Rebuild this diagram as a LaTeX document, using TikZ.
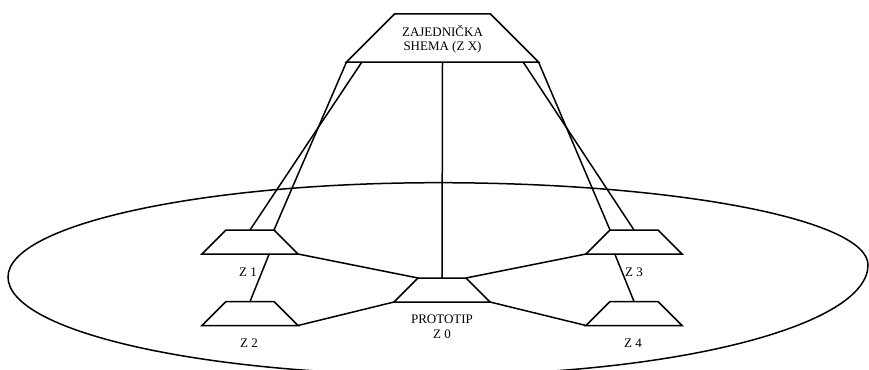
\documentclass[tikz,border=0pt]{standalone}
\usepackage{fontspec}
\setmainfont{Liberation Serif}
\usetikzlibrary{shapes.geometric,calc}
\begin{document}
\begin{tikzpicture}[x=1pt,y=-1pt,
  trap/.style={draw, trapezium, trapezium left angle=45, trapezium right angle=45,
    inner xsep=24pt, inner ysep=12pt, outer sep=0pt, line width=1.5pt},
  bigtrap/.style={trap, inner xsep=48pt, inner ysep=24pt},
  lbl/.style={inner sep=0pt, align=center, font=\fontsize{13}{14.5}\selectfont},
  conn/.style={line width=1.5pt}]
\useasboundingbox (0,0) rectangle (869,369);
% outer boundary
\begin{scope}
\clip (0,0) rectangle (869,369);
\draw[line width=1.5pt] (8,277)
  arc[start angle=180, end angle=90, x radius=430pt, y radius=94.3pt]
  arc[start angle=90, end angle=0, x radius=430pt, y radius=82.3pt]
  arc[start angle=0, end angle=-90, x radius=430pt, y radius=110pt]
  arc[start angle=-90, end angle=-180, x radius=430pt, y radius=98pt] -- cycle;
\end{scope}
% schemas
\node[bigtrap] (ZX) at (442.5,38) {};
\node[lbl] (ZXt) at (442.5,39.5) {ZAJEDNIČKA\\SHEMA (Z X)};
\node[trap] (Z1) at (250,242) {};
\node[trap] (Z2) at (250,313.5) {};
\node[trap] (Z0) at (442,290) {};
\node[trap] (Z3) at (634,242) {};
\node[trap] (Z4) at (634,313.5) {};
% labels
\node[lbl] (L1) at (248,272) {Z 1};
\node[lbl] (L2) at (249,343) {Z 2};
\node[lbl] (L3) at (634,272) {Z 3};
\node[lbl] (L4) at (633,343) {Z 4};
\node[lbl] (L0) at (442,327) {PROTOTIP\\Z 0};
% connectors from common schema
\coordinate (ZXa) at ($(ZX.bottom left corner)!0.08!(ZX.bottom right corner)$);
\coordinate (ZXb) at ($(ZX.bottom left corner)!0.92!(ZX.bottom right corner)$);
\draw[conn] (ZX.bottom left corner) -- (Z1.top right corner);
\draw[conn] (ZXa) -- (Z1.top side);
\draw[conn] (ZX.bottom right corner) -- (Z3.top left corner);
\draw[conn] (ZXb) -- (Z3.top side);
\draw[conn] (ZX.bottom side) -- (Z0.top side);
% connectors to prototype
\draw[conn] (Z1.bottom right corner) -- (Z0.top left corner);
\draw[conn] (Z2.bottom right corner) -- (Z0.bottom left corner);
\draw[conn] (Z3.bottom left corner) -- (Z0.top right corner);
\draw[conn] (Z4.bottom left corner) -- (Z0.bottom right corner);
% vertical links
\coordinate (Z1b) at ($(Z1.bottom left corner)!0.7!(Z1.bottom right corner)$);
\coordinate (Z3b) at ($(Z3.bottom left corner)!0.3!(Z3.bottom right corner)$);
\draw[conn] (Z1b) -- (Z2.top side);
\draw[conn] (Z3b) -- (Z4.top side);
\end{tikzpicture}
\end{document}
